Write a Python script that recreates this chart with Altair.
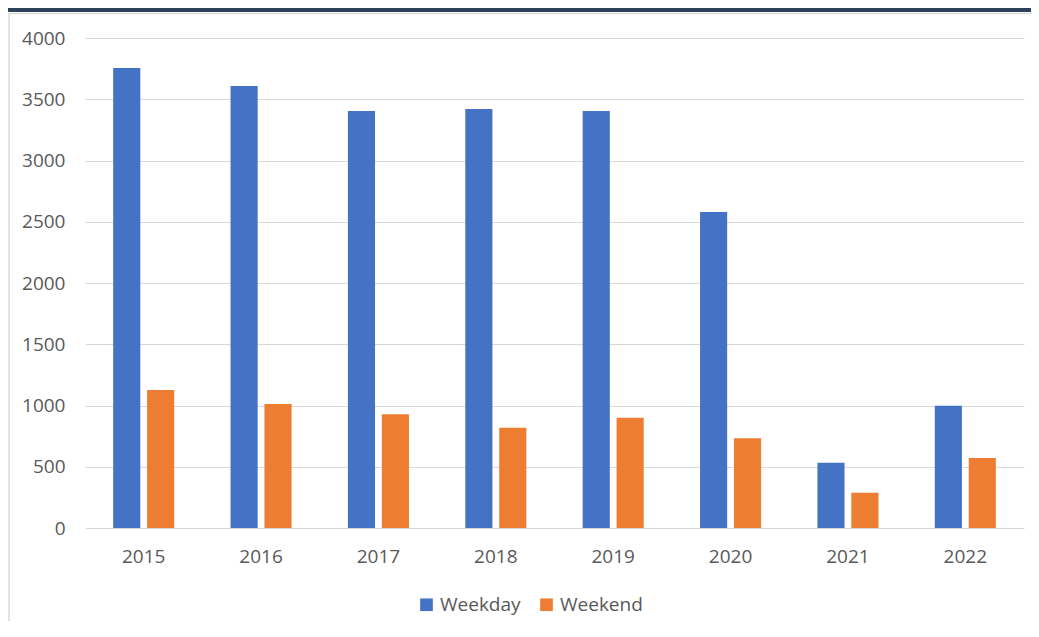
import altair as alt
import pandas as pd

years = ["2015", "2016", "2017", "2018", "2019", "2020", "2021", "2022"]
weekday = [3755, 3608, 3404, 3420, 3404, 2580, 533, 998]
weekend = [1127, 1012, 928, 819, 900, 732, 288, 571]
series = ["Weekday", "Weekend"]
colors = ["#4472C4", "#ED7D31"]
y_ticks = [0, 500, 1000, 1500, 2000, 2500, 3000, 3500, 4000]

rows = []
for i, yr in enumerate(years):
    rows.append({"Year": yr, "Series": series[0], "Value": weekday[i]})
    rows.append({"Year": yr, "Series": series[1], "Value": weekend[i]})
df = pd.DataFrame(rows)

FONT = "Open Sans"
W, H = 939, 490
PL, PT, PR, PB = 77, 30, 7, 93

bars = alt.Chart(df).mark_bar().encode(
    x=alt.X("Year:N", sort=years, title=None,
            scale=alt.Scale(paddingInner=0.48, paddingOuter=0.24),
            axis=alt.Axis(labelAngle=0, domain=False, ticks=False, labelPadding=19,
                          labelFontSize=19, labelColor="#595959", labelFont=FONT)),
    xOffset=alt.XOffset("Series:N", sort=series,
                        scale=alt.Scale(paddingInner=0.2, paddingOuter=0)),
    y=alt.Y("Value:Q", title=None,
            scale=alt.Scale(domain=[0, 4000], nice=False),
            axis=alt.Axis(values=y_ticks, format="d", domain=False, ticks=False,
                          labelPadding=20, gridColor="#D9D9D9", gridWidth=1.2,
                          labelFontSize=19, labelColor="#595959", labelFont=FONT)),
    color=alt.Color("Series:N", sort=series, title=None,
                    scale=alt.Scale(domain=series, range=colors),
                    legend=alt.Legend(orient="none", legendX=332, legendY=557,
                                      direction="horizontal", symbolType="square",
                                      symbolSize=160, symbolStrokeWidth=0,
                                      labelFontSize=19, labelColor="#595959",
                                      labelFont=FONT, labelOffset=4,
                                      columnPadding=16, padding=0)),
)

one = pd.DataFrame({"k": [0]})
navy = alt.Chart(one).mark_rect(color="#2E415A").encode(
    x=alt.value(-PL), x2=alt.value(W + PR), y=alt.value(-PT), y2=alt.value(-PT + 4)
)
top_line = alt.Chart(one).mark_rule(color="#D9D9D9", strokeWidth=1.5).encode(
    x=alt.value(-PL), x2=alt.value(W + PR), y=alt.value(-PT + 5.5)
)
left_line = alt.Chart(one).mark_rule(color="#D9D9D9", strokeWidth=1.5).encode(
    x=alt.value(-PL + 1), y=alt.value(-PT + 5.5), y2=alt.value(H + PB)
)

chart = alt.layer(navy, top_line, left_line, bars).properties(
    width=W, height=H,
    padding={"left": PL, "top": PT, "right": PR, "bottom": PB},
    autosize="none",
    background="white",
).configure_view(stroke=None)

chart.save("out.html", embed_options={"renderer": "svg", "actions": False})
